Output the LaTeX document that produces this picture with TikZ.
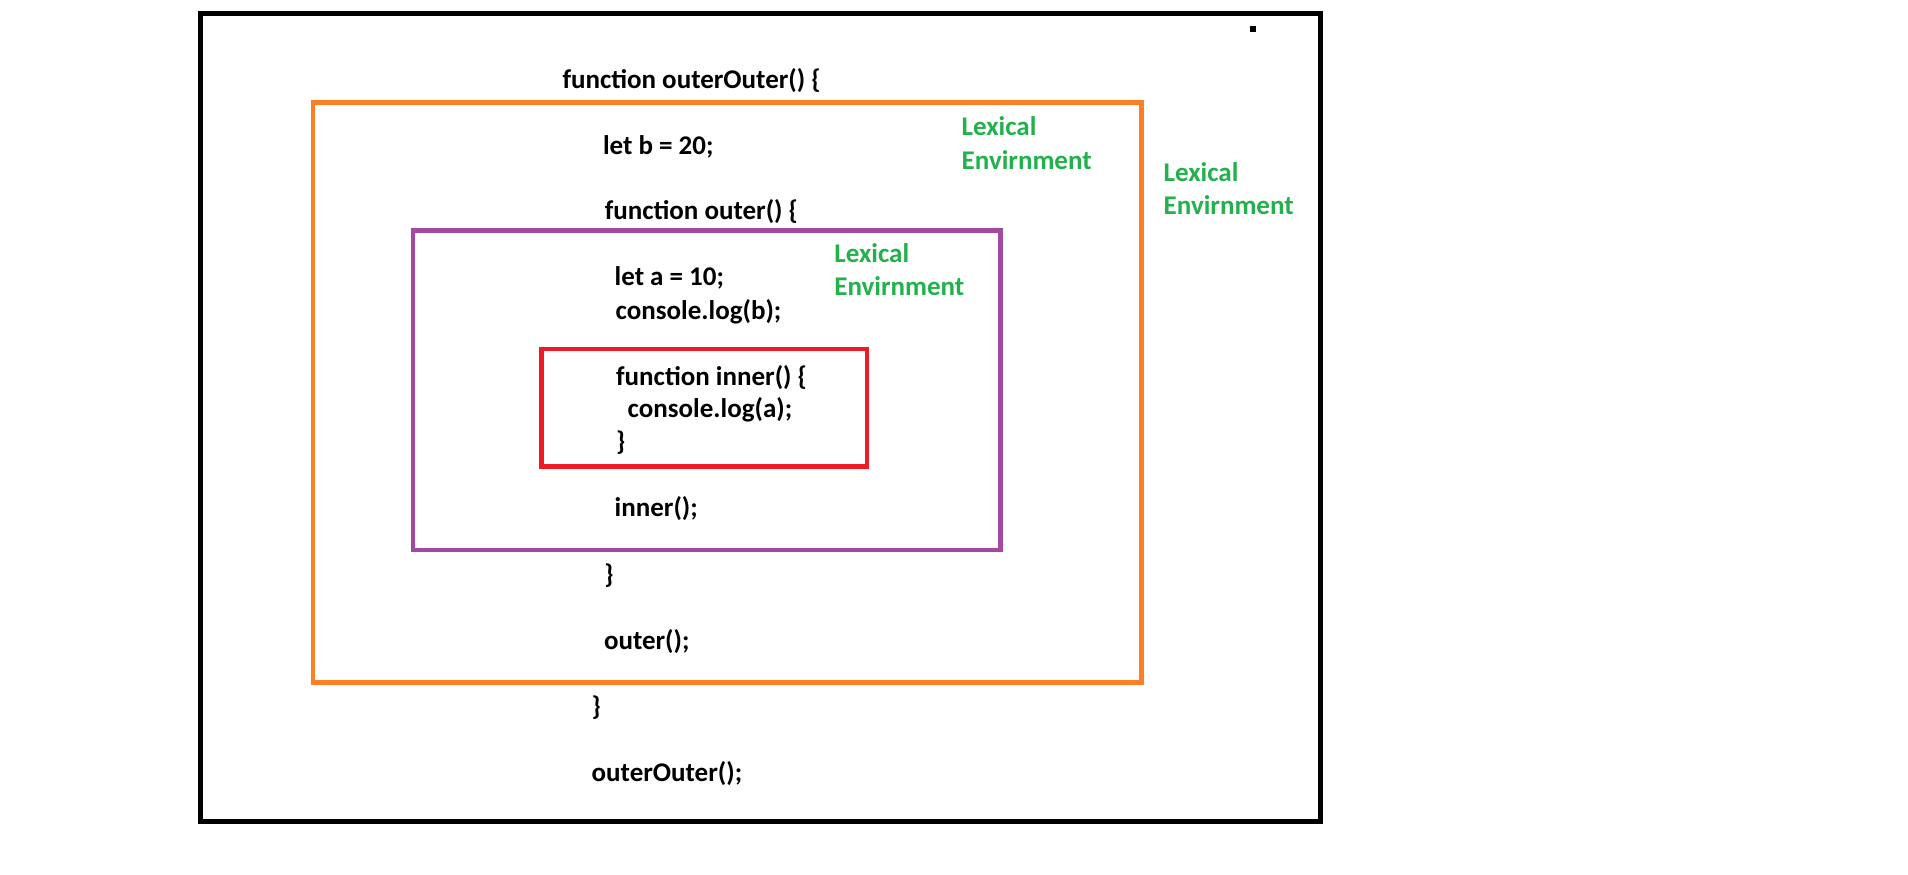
\documentclass[tikz,border=0pt]{standalone}
\usepackage{fontspec}
\setmainfont{Carlito}
\definecolor{paintorange}{HTML}{FF7F27}
\definecolor{paintpurple}{HTML}{A349A4}
\definecolor{paintred}{HTML}{ED1C24}
\definecolor{paintgreen}{HTML}{22B14C}
\begin{document}
\begin{tikzpicture}[x=1pt,y=-1pt,
  code/.style={anchor=base west,inner sep=0pt,outer sep=0pt,text=black,
    font=\fontsize{27}{33.3}\selectfont\bfseries},
  lexlabel/.style={anchor=base west,inner sep=0pt,outer sep=0pt,text=paintgreen,
    font=\fontsize{27}{33.3}\selectfont\bfseries},
  scopebox/.style={line width=4.7pt,line join=miter}]
\useasboundingbox[fill=white] (0,0) rectangle (1908,875);
% frames
\draw[line width=5pt,black] (200.7,13.5) rectangle (1320,821.5);
\fill[black] (1250,26) rectangle (1256,32);
\draw[scopebox,paintorange] (313,102.5) rectangle (1141.5,682.3);
\draw[scopebox,paintpurple] (413,230.5) rectangle (1000.3,550);
\draw[scopebox,paintred] (541.7,349) rectangle (867,466.7);
% code
\node[code] (l1) at (562.5,88.3) {function outerOuter() \{};
\node[code] (l2) at (603,154) {let b = 20;};
\node[code] (l3) at (604.8,219) {function outer() \{};
\node[code] (l4) at (614.7,285.7) {let a = 10;};
\node[code] (l5) at (615.7,319) {console.log(b);};
\node[code] (l6) at (616.2,385) {function inner() \{};
\node[code] (l7) at (627.7,417.5) {console.log(a);};
\node[code] (l8) at (616,450) {\}};
\node[code] (l9) at (614.7,516.5) {inner();};
\node[code] (l10) at (604.3,583) {\}};
\node[code] (l11) at (604,649) {outer();};
\node[code] (l12) at (591.7,715) {\}};
\node[code] (l13) at (591.7,781) {outerOuter();};
% labels
\node[lexlabel] (lexA1) at (961.7,135.7) {Lexical};
\node[lexlabel] (lexA2) at (961.7,169) {Envirnment};
\node[lexlabel] (lexB1) at (834.4,262.7) {Lexical};
\node[lexlabel] (lexB2) at (834.4,295) {Envirnment};
\node[lexlabel] (lexC1) at (1163.7,181.7) {Lexical};
\node[lexlabel] (lexC2) at (1163.7,214) {Envirnment};
\end{tikzpicture}
\end{document}
